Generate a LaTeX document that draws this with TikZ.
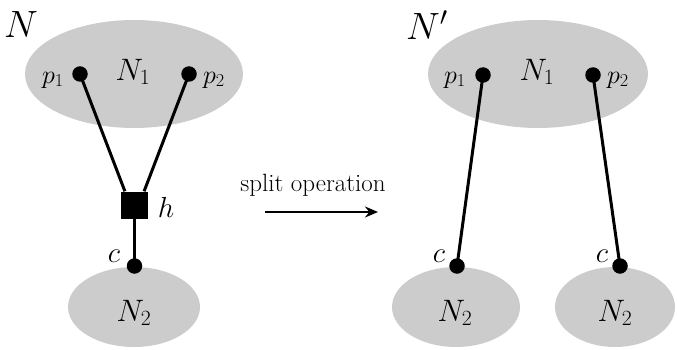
\RequirePackage{fix-cm}
\documentclass[tikz,border=0pt]{standalone}
\usetikzlibrary{arrows.meta}
\begin{document}
\begin{tikzpicture}[x=1pt,y=-1pt,
  dot/.style={circle,fill=black,inner sep=0pt,minimum size=15.5pt},
  hub/.style={rectangle,fill=black,inner sep=0pt,minimum size=27pt},
  wire/.style={line width=3pt},
  big/.style={font=\fontsize{38}{40}\selectfont,inner sep=0pt},
  mid/.style={font=\fontsize{31}{34}\selectfont,inner sep=0pt},
  plab/.style={font=\fontsize{26}{28}\selectfont,inner sep=0pt},
  small/.style={font=\fontsize{29}{31}\selectfont,inner sep=0pt}]
\path[use as bounding box] (0,0) rectangle (677,350);
% ellipses
\fill[black!20] (134,74) ellipse [x radius=109, y radius=54];
\fill[black!20] (134,307) ellipse [x radius=66, y radius=40];
\fill[black!20] (538,74) ellipse [x radius=110, y radius=54];
\fill[black!20] (456,307) ellipse [x radius=64, y radius=40];
\fill[black!20] (615,307) ellipse [x radius=60, y radius=40];
% labels
\node[big] (lN) at (21,25) {$N$};
\node[big] (lNp) at (427,25) {$N'$};
\node[mid] (lN1a) at (133,72) {$N_1$};
\node[mid] (lN1b) at (537,72) {$N_1$};
\node[mid] (lN2a) at (134,313) {$N_2$};
\node[mid] (lN2b) at (455,313) {$N_2$};
\node[mid] (lN2c) at (615,313) {$N_2$};
% left graph
\node[dot] (p1a) at (80,74) {};
\node[dot] (p2a) at (189,74) {};
\node[hub] (h) at (134.5,205) {};
\node[dot] (ca) at (134.5,266) {};
\node[plab] (lp1a) at (53,80) {$p_1$};
\node[plab] (lp2a) at (214,80) {$p_2$};
\node[small] (lh) at (166,207) {$h$};
\node[small] (lca) at (114,256) {$c$};
\draw[wire] (p1a.center) -- (h.125);
\draw[wire] (p2a.center) -- (h.55);
\draw[wire] (h.south) -- (ca.center);
% right graph
\node[dot] (p1b) at (483,75) {};
\node[dot] (p2b) at (593,75) {};
\node[dot] (cb) at (457,266) {};
\node[dot] (cc) at (620,266) {};
\node[plab] (lp1b) at (455,80) {$p_1$};
\node[plab] (lp2b) at (618,80) {$p_2$};
\node[small] (lcb) at (439,256) {$c$};
\node[small] (lcc) at (602,256) {$c$};
\draw[wire] (p1b.center) -- (cb.center);
\draw[wire] (p2b.center) -- (cc.center);
% arrow
\coordinate (a1) at (265,212);
\coordinate (a2) at (378,212);
\draw[line width=2.4pt,-{Stealth[length=13pt,width=11pt]}] (a1) -- (a2);
\node[font=\fontsize{25}{27}\selectfont,inner sep=0pt] (op) at (313,185) {split operation};
\end{tikzpicture}
\end{document}
